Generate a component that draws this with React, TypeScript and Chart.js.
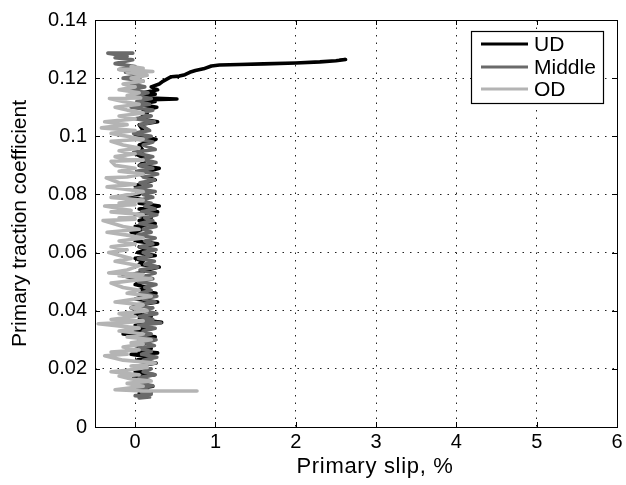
import { useEffect, useRef } from "react";
import { Chart, registerables } from "chart.js";

Chart.register(...registerables);

const seriesNames = ["UD", "Middle", "OD"];
const seriesColors = ["#000000", "#6a6a6a", "#b4b4b4"];
const seriesWidths = [3.6, 3.6, 3.6];
// later series drawn on top (UD first, OD last)
const seriesOrder = [2, 1, 0];

const xTickValues = [0, 1, 2, 3, 4, 5, 6];
const yTickValues = [0, 0.02, 0.04, 0.06, 0.08, 0.1, 0.12, 0.14];
const xTitle = "Primary slip, %";
const yTitle = "Primary traction coefficient";

// UD (black)
const udX = [
  0.05, 0.2, 0.0, 0.22, 0.05, 0.1, -0.02, 0.24, 0.0, 0.15, 0.05, 0.26, 0.02, 0.18, -0.05, 0.28, 0.05, 0.2, 0.0, 0.15,
  0.05, 0.25, -0.15, 0.05, 0.0, 0.2, 0.0, 0.15, 0.33, 0.05, 0.2, 0.0, 0.1, -0.05, 0.05, 0.28, 0.0, 0.1, 0.26, 0.05,
  0.15, 0.0, 0.1, 0.02, -0.15, 0.05, 0.15, 0.3, 0.05, 0.1, 0.0, 0.25, 0.03, 0.15, 0.05, 0.28, 0.0, 0.1, -0.05, 0.1,
  0.0, 0.25, 0.05, 0.2, 0.0, 0.28, 0.05, 0.3, 0.05, 0.12, -0.15, 0.05, 0.1, 0.0, 0.25, 0.05, 0.3, 0.05, 0.15, 0.0,
  0.1, 0.05, 0.26, 0.0, 0.1, 0.05, 0.28, 0.05, 0.15, 0.1, 0.27, 0.05, 0.25, 0.1, 0.52, 0.1, 0.05, 0.25, 0.1, 0.28,
  0.2, 0.3, 0.35, 0.45, 0.55, 0.62, 0.68, 0.75, 0.85, 0.95, 1.05, 1.3, 1.6, 2.0, 2.3, 2.5, 2.62, 2.55,
];
const udY = [
  0.0115, 0.012, 0.013, 0.014, 0.0145, 0.016, 0.017, 0.018, 0.019, 0.02, 0.021, 0.022, 0.023, 0.024, 0.025, 0.0255, 0.026, 0.027, 0.028, 0.029,
  0.03, 0.031, 0.032, 0.0325, 0.033, 0.034, 0.035, 0.0355, 0.036, 0.037, 0.038, 0.039, 0.04, 0.041, 0.042, 0.043, 0.044, 0.045, 0.046, 0.047,
  0.048, 0.049, 0.05, 0.051, 0.052, 0.053, 0.054, 0.055, 0.056, 0.057, 0.058, 0.059, 0.06, 0.061, 0.062, 0.063, 0.064, 0.066, 0.067, 0.068,
  0.069, 0.07, 0.071, 0.072, 0.073, 0.074, 0.075, 0.076, 0.077, 0.078, 0.0795, 0.08, 0.082, 0.083, 0.085, 0.087, 0.089, 0.09, 0.092, 0.094,
  0.095, 0.097, 0.099, 0.1, 0.102, 0.104, 0.105, 0.106, 0.108, 0.109, 0.11, 0.111, 0.112, 0.1125, 0.1128, 0.1132, 0.114, 0.1145, 0.115, 0.116,
  0.117, 0.118, 0.119, 0.1205, 0.1207, 0.1212, 0.122, 0.1226, 0.1232, 0.1242, 0.1245, 0.1247, 0.1249, 0.1252, 0.1256, 0.126, 0.1264, 0.1262,
];

// Middle (dark grey)
const midX = [
  0.05, 0.18, 0.0, 0.2, 0.08, 0.15, 0.02, 0.22, 0.08, 0.18, 0.05, 0.25, 0.1, 0.2, 0.03, 0.22, 0.1, 0.27, 0.08, 0.2,
  0.05, 0.24, 0.12, 0.26, 0.06, 0.2, 0.1, 0.25, 0.04, 0.32, 0.1, 0.22, 0.05, 0.27, 0.12, 0.22, 0.02, 0.25, 0.1, 0.27,
  0.06, 0.2, 0.12, 0.26, 0.04, 0.22, 0.1, 0.25, 0.06, 0.28, 0.12, 0.24, 0.04, 0.2, 0.1, 0.26, 0.06, 0.22, 0.12, 0.25,
  0.03, 0.2, 0.1, 0.26, 0.06, 0.22, 0.12, 0.27, 0.08, 0.25, 0.12, 0.2, 0.04, 0.22, 0.1, 0.25, 0.0, 0.2, 0.06, 0.24,
  0.1, 0.28, 0.02, 0.22, 0.06, 0.26, 0.1, 0.22, -0.02, 0.25, 0.1, 0.22, 0.04, 0.2, -0.02, 0.18, 0.06, 0.24, 0.0, 0.2,
  0.05, 0.22, -0.05, 0.18, 0.02, 0.2, -0.03, 0.16, -0.08, 0.12, -0.05, 0.1, -0.15, 0.12, -0.12, 0.08, -0.2, 0.0, -0.25, -0.03,
  -0.25, -0.1, -0.34, -0.03,
];
const midY = [
  0.01, 0.0103, 0.0108, 0.0113, 0.012, 0.0128, 0.0135, 0.0142, 0.015, 0.016, 0.017, 0.018, 0.019, 0.02, 0.021, 0.022, 0.023, 0.024, 0.025, 0.026,
  0.027, 0.028, 0.029, 0.03, 0.031, 0.032, 0.033, 0.034, 0.035, 0.0358, 0.0365, 0.037, 0.038, 0.039, 0.04, 0.041, 0.042, 0.043, 0.044, 0.045,
  0.046, 0.047, 0.048, 0.049, 0.05, 0.051, 0.052, 0.053, 0.054, 0.055, 0.056, 0.057, 0.058, 0.059, 0.06, 0.061, 0.062, 0.063, 0.064, 0.065,
  0.066, 0.067, 0.068, 0.069, 0.07, 0.071, 0.072, 0.073, 0.074, 0.075, 0.076, 0.077, 0.078, 0.079, 0.08, 0.081, 0.082, 0.083, 0.084, 0.085,
  0.086, 0.087, 0.088, 0.089, 0.09, 0.091, 0.092, 0.093, 0.0945, 0.0955, 0.097, 0.098, 0.099, 0.1, 0.101, 0.102, 0.104, 0.105, 0.106, 0.107,
  0.108, 0.109, 0.11, 0.111, 0.112, 0.113, 0.114, 0.115, 0.116, 0.117, 0.118, 0.119, 0.12, 0.121, 0.122, 0.1225, 0.123, 0.124, 0.125, 0.1263,
  0.127, 0.1275, 0.1286, 0.1286,
];

// OD (light grey)
const odX = [
  0.77, 0.1, -0.25, -0.05, 0.1, -0.1, 0.2, -0.05, -0.2, 0.05, -0.3, -0.1, 0.15, -0.05, 0.25, -0.15, -0.38, -0.1, -0.3, 0.05,
  -0.15, 0.1, -0.05, 0.2, -0.1, 0.1, -0.2, 0.05, -0.46, -0.1, 0.1, -0.3, 0.0, -0.2, 0.15, -0.05, 0.1, -0.25, 0.0, 0.2,
  -0.1, 0.05, -0.15, -0.3, 0.0, 0.2, -0.2, 0.1, -0.33, -0.1, 0.05, -0.25, -0.05, -0.33, -0.1, -0.3, 0.0, -0.2, 0.1, -0.1,
  -0.35, 0.05, -0.15, -0.4, 0.0, -0.2, 0.1, -0.3, -0.05, -0.38, 0.0, -0.2, 0.1, -0.3, -0.05, 0.1, -0.35, 0.0, -0.2, -0.36,
  -0.1, 0.1, -0.2, 0.0, -0.25, -0.3, 0.1, -0.1, -0.25, 0.0, -0.2, 0.05, -0.15, -0.3, 0.1, -0.1, -0.3, 0.0, -0.42, -0.1,
  -0.38, 0.0, -0.2, 0.1, -0.1, -0.25, 0.05, -0.15, -0.32, 0.07, -0.1, 0.05, -0.2, 0.0, -0.15, 0.1, -0.05, 0.15, -0.1, 0.22,
  -0.2, 0.1, -0.05,
];
const odY = [
  0.0124, 0.0124, 0.0128, 0.0135, 0.014, 0.015, 0.0158, 0.0165, 0.0175, 0.018, 0.019, 0.0195, 0.0205, 0.021, 0.022, 0.023, 0.0245, 0.025, 0.0258, 0.0265,
  0.0275, 0.0285, 0.029, 0.03, 0.031, 0.032, 0.033, 0.034, 0.0355, 0.036, 0.0365, 0.037, 0.038, 0.039, 0.04, 0.041, 0.042, 0.043, 0.044, 0.045,
  0.046, 0.047, 0.048, 0.0495, 0.0505, 0.051, 0.052, 0.0525, 0.053, 0.054, 0.0555, 0.057, 0.058, 0.06, 0.061, 0.062, 0.063, 0.064, 0.065, 0.066,
  0.067, 0.068, 0.069, 0.071, 0.0715, 0.072, 0.073, 0.074, 0.0745, 0.076, 0.0765, 0.077, 0.078, 0.079, 0.08, 0.081, 0.0826, 0.0835, 0.084, 0.0857,
  0.086, 0.087, 0.088, 0.089, 0.09, 0.0914, 0.0918, 0.092, 0.093, 0.094, 0.095, 0.096, 0.097, 0.0983, 0.099, 0.1, 0.101, 0.102, 0.1029, 0.104,
  0.105, 0.106, 0.107, 0.108, 0.109, 0.11, 0.111, 0.112, 0.113, 0.1132, 0.114, 0.115, 0.116, 0.117, 0.118, 0.119, 0.12, 0.121, 0.122, 0.1223,
  0.123, 0.1234, 0.124,
];

const FONT = "'Liberation Sans', Arial, Helvetica, sans-serif";

const framePlugin = {
  id: "matlabFrame",
  afterDraw(chart: any) {
    const { ctx, chartArea } = chart;
    const { left, right, top, bottom } = chartArea;
    const xs = chart.scales.x;
    const ys = chart.scales.y;
    ctx.save();
    // inward tick marks
    ctx.strokeStyle = "#000";
    ctx.lineWidth = 1;
    ctx.beginPath();
    xTickValues.forEach((v) => {
      const px = Math.round(xs.getPixelForValue(v)) + 0.5;
      ctx.moveTo(px, bottom);
      ctx.lineTo(px, bottom - 5);
      ctx.moveTo(px, top);
      ctx.lineTo(px, top + 5);
    });
    yTickValues.forEach((v) => {
      const py = Math.round(ys.getPixelForValue(v)) + 0.5;
      ctx.moveTo(left, py);
      ctx.lineTo(left + 5, py);
      ctx.moveTo(right, py);
      ctx.lineTo(right - 5, py);
    });
    ctx.stroke();
    // box
    ctx.strokeRect(Math.round(left) + 0.5, Math.round(top) + 0.5, Math.round(right - left), Math.round(bottom - top));

    // legend
    const lx = 471.5, ly = 31.5, lw = 132, lh = 72;
    ctx.fillStyle = "#fff";
    ctx.fillRect(lx, ly, lw, lh);
    ctx.lineWidth = 1.2;
    ctx.strokeStyle = "#000";
    ctx.strokeRect(lx, ly, lw, lh);
    const rowY = [44, 67, 89];
    ctx.font = `21px ${FONT}`;
    ctx.textBaseline = "middle";
    ctx.textAlign = "left";
    chart.data.datasets.forEach((ds: any, i: number) => {
      ctx.strokeStyle = ds.borderColor;
      ctx.lineWidth = 3.2;
      ctx.beginPath();
      ctx.moveTo(481, rowY[i]);
      ctx.lineTo(528, rowY[i]);
      ctx.stroke();
      ctx.fillStyle = "#000";
      ctx.fillText(ds.label, 534, rowY[i] + 1);
    });

    // x-axis title
    ctx.font = `22px ${FONT}`;
    ctx.textAlign = "center";
    ctx.textBaseline = "middle";
    ctx.fillStyle = "#000";
    try {
      (ctx as any).letterSpacing = "0.7px";
    } catch (e) {}
    ctx.fillText(xTitle, 375, 467);
    ctx.restore();
  },
};

export default function App() {
  const canvasRef = useRef<HTMLCanvasElement | null>(null);

  useEffect(() => {
    if (!canvasRef.current) return;
    const mk = (xs: number[], ys: number[]) => xs.map((x, i) => ({ x, y: ys[i] }));
    const datasets = [mk(udX, udY), mk(midX, midY), mk(odX, odY)].map((data, i) => ({
      label: seriesNames[i],
      data,
      order: seriesOrder[i],
      showLine: true,
      borderColor: seriesColors[i],
      backgroundColor: seriesColors[i],
      borderWidth: seriesWidths[i],
      pointRadius: 0,
      tension: 0,
      borderJoinStyle: "round" as const,
      borderCapStyle: "round" as const,
    }));

    const chart = new Chart(canvasRef.current, {
      type: "scatter",
      data: { datasets },
      options: {
        animation: false,
        responsive: false,
        maintainAspectRatio: false,
        layout: { padding: { top: 15, right: 9, left: 0, bottom: 0 } },
        plugins: { legend: { display: false }, tooltip: { enabled: false } },
        scales: {
          x: {
            type: "linear",
            min: -0.5,
            max: 6,
            afterBuildTicks: (s: any) => {
              s.ticks = xTickValues.map((v) => ({ value: v }));
            },
            afterFit: (s: any) => {
              s.height = 58;
            },
            grid: { color: "#222", lineWidth: 1, drawTicks: false },
            border: { display: false, dash: [1.5, 6] },
            ticks: {
              color: "#000",
              padding: 3,
              font: { family: FONT, size: 20 },
              callback: (v: any) => String(v),
            },
            title: { display: false },
          },
          y: {
            type: "linear",
            min: 0,
            max: 0.14,
            afterBuildTicks: (s: any) => {
              s.ticks = yTickValues.map((v) => ({ value: v }));
            },
            afterFit: (s: any) => {
              s.width = 95;
            },
            grid: { color: "#222", lineWidth: 1, drawTicks: false },
            border: { display: false, dash: [1.5, 6] },
            ticks: {
              color: "#000",
              padding: 8,
              font: { family: FONT, size: 20 },
              callback: (v: any) => String(Number(Number(v).toFixed(2))),
            },
            title: {
              display: true,
              text: yTitle,
              color: "#000",
              font: { family: FONT, size: 21 },
              padding: { top: 8, bottom: 0 },
            },
          },
        },
      },
      plugins: [framePlugin],
    });
    return () => chart.destroy();
  }, []);

  return (
    <div style={{ position: "absolute", left: 0, top: 0, width: 626, height: 485, background: "#fff" }}>
      <canvas ref={canvasRef} width={626} height={485} style={{ display: "block" }} />
    </div>
  );
}
